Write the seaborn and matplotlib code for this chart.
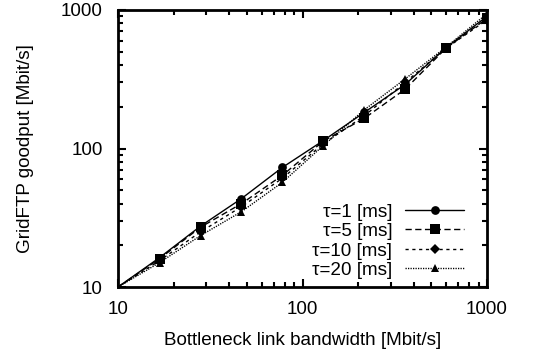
import numpy as np
import pandas as pd
import seaborn as sns
import matplotlib
matplotlib.use("Agg")
import matplotlib.pyplot as plt
from matplotlib.lines import Line2D
from matplotlib.ticker import LogLocator, FuncFormatter, NullFormatter

# Bottleneck bandwidths [Mbit/s]
bandwidth = [10, 16.8, 28, 46.7, 77.8, 129.6, 216, 360, 600, 1000]

# GridFTP goodput [Mbit/s] for each RTT setting
goodput_tau1 = [10, 16.3, 27.5, 43.5, 73, 114, 182, 290, 535, 900]
goodput_tau5 = [10, 16.0, 27.0, 40.0, 64, 113, 165, 268, 530, 870]
goodput_tau10 = [10, 15.5, 25.0, 38.0, 61, 108, 172, 300, 530, 850]
goodput_tau20 = [10, 15.0, 23.5, 35.0, 57, 105, 190, 318, 540, 940]

series_labels = ["τ=1 [ms]", "τ=5 [ms]", "τ=10 [ms]", "τ=20 [ms]"]
series_values = [goodput_tau1, goodput_tau5, goodput_tau10, goodput_tau20]

frames = []
for lab, vals in zip(series_labels, series_values):
    frames.append(pd.DataFrame({"bandwidth": bandwidth, "goodput": vals, "tau": lab}))
df = pd.concat(frames, ignore_index=True)

FS = 13.6
sns.set_theme(style="ticks")
plt.rcParams["font.family"] = ["Liberation Sans", "DejaVu Sans"]
plt.rcParams["font.size"] = FS
plt.rcParams["text.color"] = "black"
plt.rcParams["axes.labelcolor"] = "black"

markers = {"τ=1 [ms]": "o", "τ=5 [ms]": "s", "τ=10 [ms]": "D", "τ=20 [ms]": "^"}
marker_sizes = {"τ=1 [ms]": 6.3, "τ=5 [ms]": 7.0, "τ=10 [ms]": 4.7, "τ=20 [ms]": 6.3}
dashes = {"τ=1 [ms]": "", "τ=5 [ms]": (4.5, 2.5), "τ=10 [ms]": (2.3, 2.6), "τ=20 [ms]": (0.9, 0.9)}
palette = {lab: "black" for lab in series_labels}

fig = plt.figure(figsize=(5.39, 3.54), dpi=100)
ax = fig.add_axes([118 / 539, 1 - 287 / 354, (487 - 118) / 539, (287 - 10) / 354])

sns.lineplot(data=df, x="bandwidth", y="goodput", hue="tau", style="tau",
             hue_order=series_labels, style_order=series_labels,
             palette=palette, markers=markers, dashes=dashes,
             linewidth=1.0, markeredgewidth=0, legend=False, ax=ax)

# markers only on the measured points, not on the origin corner
for line, lab in zip(ax.lines, series_labels):
    line.set_markevery(slice(1, None))
    line.set_markersize(marker_sizes[lab])

ax.set_xscale("log")
ax.set_yscale("log")
ax.set_xlim(10, 1000)
ax.set_ylim(10, 1000)

fmt = FuncFormatter(lambda v, p: f"{v:g}")
for axis in (ax.xaxis, ax.yaxis):
    axis.set_major_locator(LogLocator(base=10))
    axis.set_minor_locator(LogLocator(base=10, subs=np.arange(2, 10)))
    axis.set_major_formatter(fmt)
    axis.set_minor_formatter(NullFormatter())

ax.tick_params(which="both", direction="in", top=True, right=True, width=1.5, colors="black")
ax.tick_params(which="major", length=6)
ax.tick_params(which="minor", length=3.5)
ax.tick_params(axis="y", which="major", pad=11, labelsize=FS)
ax.tick_params(axis="x", which="major", pad=10, labelsize=FS)

for sp in ax.spines.values():
    sp.set_linewidth(2.0)
    sp.set_color("black")

ax.set_xlabel("Bottleneck link bandwidth [Mbit/s]", fontsize=FS, labelpad=10)
ax.set_ylabel("GridFTP goodput [Mbit/s]", fontsize=FS, labelpad=19)

handles = []
for lab in series_labels:
    ls = "-" if dashes[lab] == "" else (0, dashes[lab])
    handles.append(Line2D([], [], color="black", linewidth=1.0, linestyle=ls,
                          marker=markers[lab], markersize=marker_sizes[lab],
                          markeredgewidth=0))

leg = ax.legend(handles=handles, labels=series_labels, loc="lower right",
                bbox_to_anchor=(464 / 539, 1 - 279 / 354), bbox_transform=fig.transFigure,
                frameon=False, markerfirst=False, handlelength=3.1, handletextpad=0.7,
                labelspacing=0.12, borderpad=0, borderaxespad=0, fontsize=FS)

fig.savefig("out.png", dpi=100)
